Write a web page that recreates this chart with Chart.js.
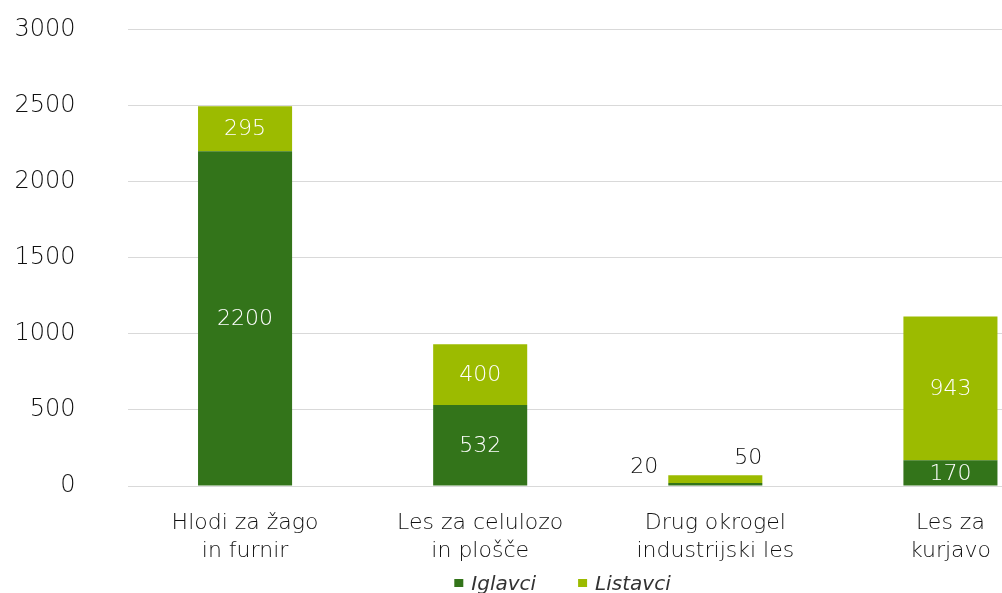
<!DOCTYPE html>
<html>
<head>
<meta charset="utf-8">
<script src="https://cdn.jsdelivr.net/npm/chart.js@4.4.0/dist/chart.umd.min.js"></script>
<style>
html,body{margin:0;padding:0;background:#fff;overflow:hidden;width:1002px;height:593px;}
#wrap{position:absolute;left:0;top:-37px;}
</style>
</head>
<body>
<div id="wrap"><canvas id="c" width="1125" height="653"></canvas></div>
<script>
const categories = [['Hlodi za žago','in furnir'], ['Les za celulozo','in plošče'], ['Drug okrogel','industrijski les'], ['Les za','kurjavo']];
const iglavci = [2200, 532, 20, 170];
const listavci = [295, 400, 50, 943];
const yTicks = [0, 500, 1000, 1500, 2000, 2500, 3000];

const FONT = '"DejaVu Sans", sans-serif';
const W = '200';
const TEXT = '#111111';
const DARK = '#33741a';
const LIGHT = '#9cbb00';

const labelPlugin = {
  id: 'barLabels',
  afterDatasetsDraw(chart) {
    const ctx = chart.ctx;
    ctx.save();
    ctx.font = W + ' 22px ' + FONT;
    chart.data.datasets.forEach((ds, di) => {
      const meta = chart.getDatasetMeta(di);
      meta.data.forEach((el, i) => {
        const v = ds.data[i];
        const top = Math.min(el.y, el.base), bot = Math.max(el.y, el.base);
        const h = bot - top;
        const left = el.x - el.width / 2, right = el.x + el.width / 2;
        ctx.textBaseline = 'middle';
        if (h >= 20) {
          ctx.fillStyle = '#ffffff';
          ctx.textAlign = 'center';
          ctx.fillText(String(v), el.x, (top + bot) / 2 + 1);
        } else if (di === 0) {
          ctx.fillStyle = TEXT;
          ctx.textAlign = 'right';
          ctx.fillText(String(v), left - 10, bot - 18);
        } else {
          ctx.fillStyle = TEXT;
          ctx.textAlign = 'right';
          ctx.fillText(String(v), right, top - 17);
        }
      });
    });
    ctx.restore();
  }
};

const legendPlugin = {
  id: 'bottomLegend',
  afterDraw(chart) {
    const ctx = chart.ctx;
    ctx.save();
    ctx.font = 'italic ' + W + ' 20px ' + FONT;
    const box = 9, gapText = 8, gapItem = 42;
    const items = chart.data.datasets.map(d => ({ text: d.label, color: d.backgroundColor, w: ctx.measureText(d.label).width }));
    const total = items.reduce((s, it) => s + box + gapText + it.w, 0) + gapItem * (items.length - 1);
    let x = 562.5 - total / 2;
    const y = chart.chartArea.bottom + 99;
    items.forEach(it => {
      ctx.fillStyle = it.color;
      ctx.fillRect(x, y - 6, box, 8);
      x += box + gapText;
      ctx.fillStyle = '#333333';
      ctx.textAlign = 'left';
      ctx.textBaseline = 'middle';
      ctx.fillText(it.text, x, y);
      x += it.w + gapItem;
    });
    ctx.restore();
  }
};

const chart = new Chart(document.getElementById('c'), {
  type: 'bar',
  data: {
    labels: categories,
    datasets: [
      { label: 'Iglavci', data: iglavci, backgroundColor: DARK, borderWidth: 0 },
      { label: 'Listavci', data: listavci, backgroundColor: LIGHT, borderWidth: 0 }
    ]
  },
  options: {
    responsive: false,
    animation: false,
    layout: { padding: { top: 17, right: 57, left: 0, bottom: 40 } },
    datasets: { bar: { barPercentage: 1, categoryPercentage: 0.4 } },
    plugins: {
      tooltip: { enabled: false },
      legend: { display: false }
    },
    scales: {
      x: {
        stacked: true,
        grid: { display: false },
        border: { display: false },
        afterFit(axis) { axis.height = 90; },
        ticks: { color: TEXT, padding: 15, font: { family: FONT, size: 22, weight: W, lineHeight: 1.28 } }
      },
      y: {
        stacked: true,
        min: 0, max: 3000,
        afterBuildTicks(axis) { axis.ticks = yTicks.map(v => ({ value: v })); },
        afterFit(axis) { axis.width = 127.5; },
        grid: { color: '#d9d9d9', lineWidth: 1, drawTicks: false },
        border: { display: false },
        ticks: { color: TEXT, padding: 52, callback: v => String(v), font: { family: FONT, size: 24, weight: W } }
      }
    }
  },
  plugins: [labelPlugin, legendPlugin]
});
</script>
</body>
</html>
